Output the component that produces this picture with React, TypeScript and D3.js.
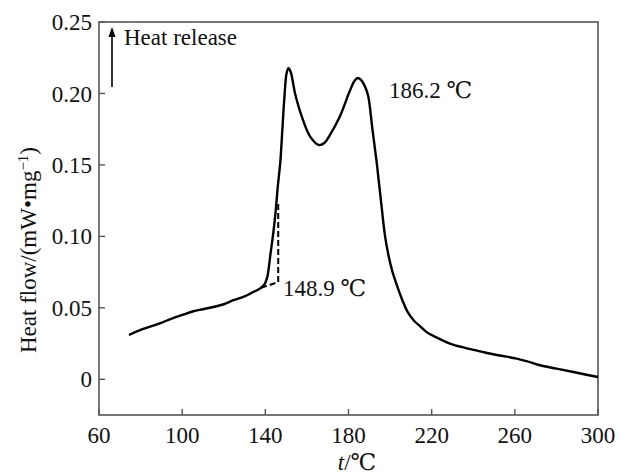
import React from "react";
import * as d3 from "d3";

const temps = [74.4, 80, 90, 95, 100, 105.4, 110, 115, 120, 124.6, 130, 134.2, 137.5, 139.8, 141, 142.5, 143.8, 145, 146, 147.2, 148.2, 149.2, 150.2, 151.1, 152.2, 154.3, 157.5, 161.5, 165.8, 168.5, 171.1, 175.9, 180.7, 183, 184.5, 186, 188, 189.5, 191.5, 193.7, 195.6, 197.6, 199.2, 201, 203.2, 206, 208.5, 211.5, 214.5, 217.6, 222, 228.8, 236, 244.9, 252, 260.9, 266, 272.1, 280, 288.1, 295, 300];
const flows = [0.031, 0.0345, 0.0395, 0.0425, 0.045, 0.0476, 0.049, 0.0506, 0.0525, 0.0553, 0.058, 0.0611, 0.0635, 0.067, 0.072, 0.088, 0.102, 0.118, 0.135, 0.152, 0.175, 0.198, 0.214, 0.2176, 0.215, 0.2, 0.184, 0.17, 0.1639, 0.1655, 0.171, 0.184, 0.202, 0.209, 0.2108, 0.2095, 0.2047, 0.198, 0.175, 0.15, 0.125, 0.1, 0.087, 0.076, 0.066, 0.055, 0.047, 0.041, 0.037, 0.033, 0.0295, 0.025, 0.022, 0.019, 0.0168, 0.0145, 0.0125, 0.0098, 0.0075, 0.0051, 0.003, 0.0016];

const onsetTemps = [138, 146.2, 146.2];
const onsetFlows = [0.064, 0.068, 0.124];

const xTicks = [60, 100, 140, 180, 220, 260, 300];
const yTicks = [0, 0.05, 0.1, 0.15, 0.2, 0.25];
const yTickLabels = ["0", "0.05", "0.10", "0.15", "0.20", "0.25"];

const W = 626, H = 474;
const left = 99, right = 598, top = 22, bottom = 415;
const FONT = "'Liberation Serif', 'DejaVu Serif', serif";
const FS = 23;
const ts: React.CSSProperties = { fontFamily: FONT, fontSize: FS };

export default function App() {
  const x = d3.scaleLinear().domain([60, 300]).range([left, right]);
  const y = d3.scaleLinear().domain([-0.025, 0.25]).range([bottom, top]);
  const pts = temps.map((t, i) => [t, flows[i]] as [number, number]);
  const line = d3.line<[number, number]>().x(d => x(d[0])).y(d => y(d[1])).curve(d3.curveCatmullRom.alpha(0.5));
  const dashPts = onsetTemps.map((t, i) => [t, onsetFlows[i]] as [number, number]);
  const dashLine = d3.line<[number, number]>().x(d => x(d[0])).y(d => y(d[1]));
  const axisColor = "#555";
  return (
    <svg width={W} height={H} style={{ position: "absolute", left: 0, top: 0, background: "#fff" }}>
      <rect x={left} y={top} width={right - left} height={bottom - top} fill="none" stroke={axisColor} strokeWidth={1.6} />
      {xTicks.map(t => (
        <g key={"x" + t}>
          <line x1={x(t)} x2={x(t)} y1={bottom} y2={bottom - 6} stroke={axisColor} strokeWidth={1.4} />
          <text x={x(t)} y={443} textAnchor="middle" style={ts} fill="#111">{t}</text>
        </g>
      ))}
      {yTicks.map((v, i) => (
        <g key={"y" + v}>
          <line x1={left} x2={left + 6} y1={y(v)} y2={y(v)} stroke={axisColor} strokeWidth={1.4} />
          <text x={92} y={y(v)} dy="0.35em" textAnchor="end" style={ts} fill="#111">{yTickLabels[i]}</text>
        </g>
      ))}
      <text x={357} y={470} textAnchor="middle" style={ts} fill="#111">
        <tspan fontStyle="italic">t</tspan>/℃
      </text>
      <text transform={`translate(36, 250) rotate(-90)`} textAnchor="middle" style={ts} fill="#111">
        Heat flow/(mW•mg<tspan dy={-8} style={{ fontSize: 15 }}>−1</tspan><tspan dy={8}>)</tspan>
      </text>
      <path d={line(pts) || ""} fill="none" stroke="#000" strokeWidth={2.4} strokeLinejoin="round" />
      <path d={dashLine(dashPts) || ""} fill="none" stroke="#000" strokeWidth={2} strokeDasharray="6,3" />
      <line x1={112} x2={112} y1={87} y2={36} stroke="#000" strokeWidth={1.6} />
      <polygon points="112,27 108.5,37 115.5,37" fill="#000" />
      <text x={124} y={44.5} style={ts} fill="#111">Heat release</text>
      <text x={389} y={97.5} style={ts} fill="#111">186.2 ℃</text>
      <text x={283} y={296} style={ts} fill="#111">148.9 ℃</text>
    </svg>
  );
}
